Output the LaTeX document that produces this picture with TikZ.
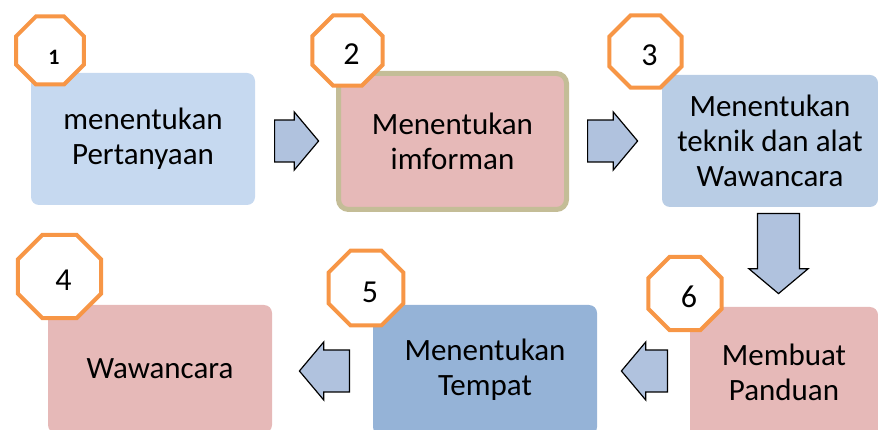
\documentclass[tikz,border=0pt]{standalone}
\usepackage{fontspec}
\setmainfont{Carlito}
\usetikzlibrary{shapes.geometric}
\usetikzlibrary{shapes.arrows}
\definecolor{fillblue}{HTML}{C6D9F0}
\definecolor{fillsteel}{HTML}{B9CDE5}
\definecolor{filldark}{HTML}{95B3D7}
\definecolor{fillpink}{HTML}{E6B9B8}
\definecolor{linetan}{HTML}{C4BD97}
\definecolor{lineorange}{HTML}{F79646}
\definecolor{fillarrow}{HTML}{B0C2DE}
\tikzset{
    stepbox/.style = {rectangle, rounded corners=8pt, align=center, inner sep=0pt, font=\fontsize{31}{35}\selectfont},
    boxb/.style = {stepbox, fill=fillblue},
    boxs/.style = {stepbox, fill=fillsteel},
    boxd/.style = {stepbox, fill=filldark},
    boxp/.style = {stepbox, fill=fillpink},
    boxt/.style = {stepbox, fill=fillpink, draw=linetan, line width=5pt, rounded corners=10pt},
    octnode/.style = {regular polygon, regular polygon sides=8, draw=lineorange, line width=4pt, fill=white, inner sep=0pt, text height=28pt, text depth=0pt, execute at begin node={\hspace*{8pt}}, font=\fontsize{32}{36}\selectfont},
    blockarr/.style = {single arrow, draw=black, line width=1.2pt, fill=fillarrow, inner xsep=0pt, inner ysep=18pt, single arrow tip angle=100, anchor=tail},
    blockdown/.style = {blockarr, inner xsep=17pt, inner ysep=0pt}
}
\begin{document}
\begin{tikzpicture}[x=1pt,y=-1pt]
\useasboundingbox (0,0) rectangle (878,430);
%
\node[boxb, minimum width=224pt, minimum height=132pt] at (143, 139) (s1) {menentukan\\Pertanyaan};
\node[boxt, minimum width=228pt, minimum height=136pt] at (452.5, 141.5) (s2) {Menentukan\\imforman};
\node[boxs, minimum width=216pt, minimum height=132pt] at (770, 141) (s3) {Menentukan\\teknik dan alat\\Wawancara};
\node[boxp, minimum width=224pt, minimum height=128pt] at (160, 369) (s4) {Wawancara};
\node[boxd, minimum width=224pt, minimum height=130pt] at (485, 370) (s5) {Menentukan\\Tempat};
\node[boxp, minimum width=188pt, minimum height=130pt] at (784, 372) (s6) {Membuat\\Panduan};
%
\node[octnode, minimum size=73.6pt, font=\fontsize{22}{26}\selectfont\bfseries] at (50, 50.5) (n1) {1};
\node[octnode, minimum size=75.8pt] at (347.5, 50.5) (n2) {2};
\node[octnode, minimum size=78pt] at (645.5, 51.5) (n3) {3};
\node[octnode, minimum size=90pt] at (59.5, 276.5) (n4) {4};
\node[octnode, minimum size=81pt] at (366, 288) (n5) {5};
\node[octnode, minimum size=79.5pt] at (685, 293.5) (n6) {6};
%
\node[blockarr, minimum width=58pt, minimum height=44pt] at (274, 141) (a12) {};
\node[blockarr, minimum width=58pt, minimum height=50pt] at (587, 141) (a23) {};
\node[blockdown, minimum width=59pt, minimum height=80pt, shape border rotate=273] at (778.5, 213) (a36) {};
\node[blockarr, minimum width=58pt, minimum height=46pt, shape border rotate=180] at (668, 371) (a65) {};
\node[blockarr, minimum width=58pt, minimum height=50pt, shape border rotate=180] at (350, 371) (a54) {};

\end{tikzpicture}
\end{document}
